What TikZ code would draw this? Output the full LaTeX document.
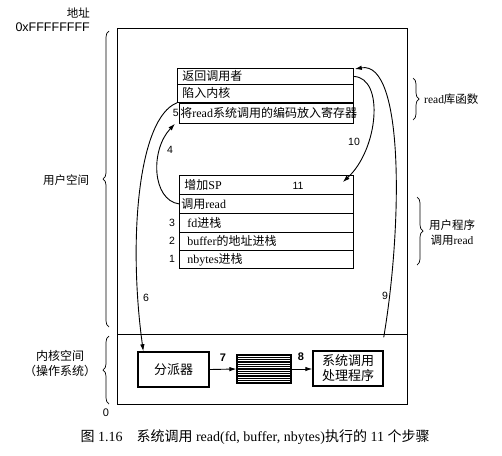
\documentclass[tikz,border=0pt]{standalone}
\usepackage{fontspec}
\setmainfont{Liberation Serif}
\newfontfamily\cjk{Noto Sans CJK SC}
\newfontfamily\hv{Liberation Sans}
\newcommand\zh[1]{{\cjk #1}}
\usetikzlibrary{arrows.meta,decorations.pathreplacing}
\begin{document}
\begin{tikzpicture}[x=1pt,y=-1pt,
  rowbox/.style={draw, line width=0.8pt, text width=164pt, inner xsep=5pt, inner ysep=0pt, align=left, font=\fontsize{12}{12}\selectfont, anchor=north west},
  kbox/.style={draw, line width=1.4pt, inner sep=0pt, align=center, font=\fontsize{13}{15}\selectfont},
  num/.style={font=\hv\fontsize{10.5}{12}\selectfont, inner sep=0pt},
  lbl/.style={font=\fontsize{11.5}{15}\selectfont, inner sep=0pt},
  arr/.style={-{Latex[length=7pt,width=4.5pt]}, line width=0.9pt},
  brc/.style={decorate, decoration={brace, amplitude=6pt}, line width=0.7pt}]
\useasboundingbox (0,0) rectangle (502,455);

% outer frame
\draw[line width=0.9pt] (117,28) rectangle (407,404);
\draw[line width=0.9pt] (117,334) -- (407,334);

% read library rows
\node[rowbox, minimum height=16pt, text width=166pt] (r1) at (177,68) {\zh{返回调用者}};
\node[rowbox, minimum height=18pt, text width=166pt] (r2) at (177,84) {\zh{陷入内核}};
\node[rowbox, minimum height=20pt, inner xsep=1pt, text width=172pt] (r5) at (179,103) {\zh{将}read\zh{系统调用的编码放入寄存器}};

% user program rows
\node[rowbox, minimum height=19pt] (sp) at (179,175) {\zh{增加}SP};
\node[rowbox, minimum height=19pt, inner xsep=2pt, text width=170pt] (rd) at (179,194) {\zh{调用}read};
\node[rowbox, minimum height=19pt, inner xsep=8pt, text width=158pt] (fd) at (179,213) {fd\zh{进栈}};
\node[rowbox, minimum height=18pt, inner xsep=8pt, text width=158pt] (bf) at (179,232) {buffer\zh{的地址进栈}};
\node[rowbox, minimum height=18pt, inner xsep=8pt, text width=158pt] (nb) at (179,250) {nbytes\zh{进栈}};

% kernel boxes
\node[kbox, minimum width=71pt, minimum height=35pt] (disp) at (173.5,369.5) {\zh{分派器}};
\node[draw, line width=1.2pt, minimum width=54pt, minimum height=28pt, inner sep=0pt,
  path picture={\foreach \k in {1,...,11}{\draw[line width=1.1pt] ([yshift=-\k*2.33pt]path picture bounding box.north west) -- ([yshift=-\k*2.33pt]path picture bounding box.north east);}}] (hb) at (264,369) {};
\node[kbox, minimum width=70pt, minimum height=35pt] (sys) at (348,368.5) {\zh{系统调用}\\\zh{处理程序}};

% arrows
\draw[arr] (disp.east) -- (hb.west);
\draw[arr] (hb.east) -- (sys.west|-hb.east);
\draw[arr] (r2.south west) .. controls (138,118) and (128,240) .. ([xshift=6pt]disp.north west);
\draw[arr] (rd.west) .. controls (152,200) and (150,150) .. ([xshift=-4pt]r5.south west);
\draw[arr] (r1.east) .. controls (385,78) and (378,150) .. ([xshift=-11pt,yshift=-7pt]sp.north east);
\draw[arr] ([yshift=13pt]sys.north east) .. controls (402,230) and (405,60) .. ([xshift=1pt,yshift=-1pt]r1.north east);

% step numbers
\node[num] (n4) at (170,150) {4};
\node[num, anchor=east] (n5) at (179,113) {5};
\node[num] (n6) at (146,298) {6};
\node[num, font=\hv\bfseries\fontsize{11}{12}\selectfont] (n7) at (223,358) {7};
\node[num, font=\hv\bfseries\fontsize{11}{12}\selectfont] (n8) at (301,357) {8};
\node[num] (n9) at (385,296) {9};
\node[num] (n10) at (354,142) {10};
\node[num] (n11) at (298,186) {11};
\node[num] (n3) at (172,223) {3};
\node[num] (n2) at (172,241) {2};
\node[num] (n1) at (172,259) {1};

% left labels
\node[lbl, anchor=east] (addr) at (90,13) {\zh{地址}};
\node[num, anchor=east, font=\hv\fontsize{12.5}{14}\selectfont] (top) at (90,27) {0xFFFFFFFF};
\node[num, font=\hv\fontsize{11}{12}\selectfont] (zero) at (106,413) {0};
\draw[brc] (109,327) -- (109,31);
\draw[brc] (109,404) -- (109,336);
\node[lbl] (us) at (66,180) {\zh{用户空间}};
\node[lbl, align=center, font=\fontsize{12}{15}\selectfont] (ks) at (60,363) {\zh{内核空间}\\\zh{（操作系统）}};

% right labels
\draw[brc] (413,78) -- (413,120);
\node[lbl, anchor=west] (lib) at (424,99) {read\zh{库函数}};
\draw[brc] (417,197) -- (417,265);
\node[lbl, align=center] (up) at (452,233) {\zh{用户程序}\\\zh{调用}read};

% caption
\node[font=\fontsize{14}{16}\selectfont, inner sep=0pt] (cap) at (255,437) {\zh{图} 1.16\hspace{1em}\zh{系统调用} read(fd, buffer, nbytes)\zh{执行的} 11 \zh{个步骤}};
\end{tikzpicture}
\end{document}
